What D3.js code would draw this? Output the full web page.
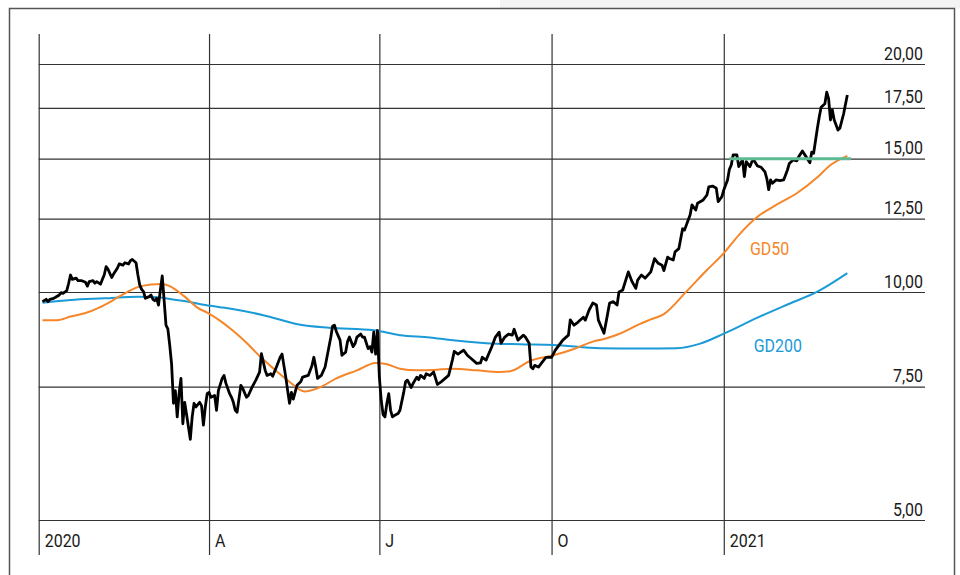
<!DOCTYPE html>
<html>
<head>
<meta charset="utf-8">
<title>Kurs mit GD50 / GD200</title>
<style>
  html, body { margin: 0; padding: 0; background: #fff; }
  svg text { font-family: Roboto, "DejaVu Sans", sans-serif; font-weight: 400; font-size: 19px; fill: #1a1a1a; }
</style>
</head>
<body>
<svg width="960" height="575"></svg>
<script src="https://d3js.org/d3.v7.min.js"></script>
<script>
// days are counted from 1 Jan 2020
const priceDay = [2,4,5,6,8,9,11,12,13,15,16,17,18,20,21,23,25,26,27,29,30,31,33,34,35,36,37,39,40,42,43,45,46,48,49,50,52,53,54,55,56,57,59,60,61,62,63,64,65,66,67,68,69,70,71,72,73,74,75,76,77,78,79,81,82,83,84,86,87,88,89,90,91,92,94,95,96,98,99,100,102,103,104,105,106,108,109,111,112,114,116,118,119,121,122,124,125,127,129,130,132,133,134,135,136,138,140,141,144,146,147,148,149,151,153,154,156,157,158,159,161,162,164,165,166,168,169,170,172,173,174,176,177,178,179,180,181,182,183,184,185,186,187,188,189,190,192,193,195,196,197,199,200,202,203,204,206,207,209,211,213,215,219,221,222,224,227,229,231,234,236,237,239,242,244,246,247,249,251,253,254,256,259,260,262,263,264,265,267,269,271,274,276,278,280,283,284,286,288,291,292,294,296,298,299,302,303,305,307,309,310,312,315,317,319,320,322,324,327,329,331,333,334,336,337,339,340,342,344,345,347,348,349,351,352,355,357,358,360,362,363,365,366,368,369,370,371,373,374,376,377,378,380,381,382,384,386,388,389,390,391,392,394,396,398,400,401,403,405,406,408,410,412,413,414,416,417,418,420,421,422,423,424,425,427,428,430,432]
const priceValue = [9.71,9.78,9.71,9.78,9.81,9.84,9.91,9.98,9.96,10.04,10.27,10.53,10.39,10.43,10.35,10.35,10.30,10.18,10.32,10.35,10.27,10.32,10.24,10.39,10.53,10.80,10.72,10.45,10.56,10.75,10.89,10.85,10.93,10.89,11.00,11.04,10.93,10.53,10.21,10.08,10.01,9.81,9.86,9.91,9.78,9.74,9.81,9.61,10.06,10.50,9.76,9.04,8.94,8.51,8.03,7.13,7.41,6.84,7.34,7.69,6.70,7.15,6.89,6.39,6.84,7.13,7.05,7.15,7.08,6.67,7.05,7.34,7.37,7.26,7.30,6.98,7.41,7.69,7.76,7.58,7.34,7.26,7.15,6.98,6.94,7.53,7.46,7.26,7.30,7.49,7.65,7.84,8.29,7.88,7.76,7.80,7.74,7.96,8.20,8.28,7.72,7.41,7.13,7.37,7.22,7.53,7.61,7.72,7.76,8.00,8.20,7.96,7.69,7.76,7.96,8.20,8.70,9.01,9.04,8.87,8.64,8.25,8.33,8.60,8.72,8.47,8.55,8.72,8.80,8.72,8.72,8.42,8.47,8.33,8.85,8.28,8.90,7.72,7.19,6.89,6.84,7.13,7.34,6.98,6.84,6.87,6.91,6.98,7.37,7.61,7.65,7.48,7.57,7.72,7.66,7.76,7.69,7.80,7.76,7.84,7.55,7.61,7.76,8.13,8.35,8.28,8.38,8.25,8.17,8.05,8.06,8.20,8.13,8.46,8.72,8.85,8.56,8.72,8.80,8.77,8.93,8.64,8.77,8.72,8.56,7.96,7.92,8.00,7.96,8.08,8.20,8.20,8.38,8.51,8.64,8.77,9.19,9.04,9.12,9.26,9.18,9.46,9.67,9.61,9.18,8.82,9.09,9.67,9.71,9.61,10.00,10.06,10.63,10.32,10.11,10.37,10.53,10.43,10.63,11.07,10.91,10.85,10.67,11.12,11.07,11.02,11.30,11.41,12.12,12.07,12.45,12.64,13.03,12.83,13.10,13.23,13.43,13.77,13.80,13.71,13.16,13.36,13.64,14.06,14.52,14.71,15.17,15.17,14.64,14.94,14.20,14.86,14.64,14.86,14.94,14.67,14.61,14.41,14.12,13.65,14.06,13.92,14.06,14.03,14.06,14.49,14.78,14.94,14.90,15.08,15.35,15.08,14.81,15.30,15.25,16.45,17.02,17.54,17.72,18.36,18.00,16.87,17.39,16.87,16.36,16.45,17.18,18.20]

const gd50Day = [2,10,17,25,32,39,46,53,60,66,70,78,85,90,97,104,111,118,125,134,142,150,159,170,180,186,193,202,211,221,234,246,252,263,275,286,296,303,310,321,326,334,346,357,366,374,384,394,405,416,423,432]
const gd50Value = [9.18,9.18,9.28,9.38,9.53,9.73,9.96,10.15,10.23,10.25,10.18,9.86,9.53,9.39,9.16,8.88,8.57,8.23,7.94,7.61,7.39,7.48,7.69,7.88,8.06,8.03,7.92,7.88,7.89,7.92,7.88,7.84,7.86,8.12,8.25,8.41,8.60,8.68,8.80,9.07,9.18,9.35,10.01,10.69,11.25,11.89,12.57,13.03,13.50,14.17,14.71,15.13]

const gd200Day = [2,17,35,53,64,71,80,89,102,120,139,155,179,193,209,220,239,257,275,300,321,341,353,366,384,401,416,432]
const gd200Value = [9.68,9.76,9.81,9.86,9.84,9.78,9.71,9.61,9.51,9.32,9.06,8.97,8.90,8.77,8.71,8.64,8.56,8.53,8.51,8.43,8.42,8.43,8.54,8.81,9.25,9.65,10.01,10.59]

const resistanceDays = [369, 434]
const resistanceValue = 15

const yTicks = [5, 7.5, 10, 12.5, 15, 17.5, 20]
const xTickDays = [0, 91, 182, 274, 366]
const xTickLabels = ["2020", "A", "J", "O", "2021"]

const start = Date.UTC(2020, 0, 1)
const toDate = d => new Date(start + d * 864e5)

const svg = d3.select("svg")
const plotLeft = 38.7, plotRight = 925, plotTop = 34, plotBase = 520, plotBottom = 555

// page frame
svg.append("rect").attr("x", 500).attr("y", 0).attr("width", 460).attr("height", 8.5).attr("fill", "#f3f3f3")
svg.append("rect").attr("x", 9.5).attr("y", 8.5).attr("width", 945).attr("height", 620)
    .attr("fill", "none").attr("stroke", "#555").attr("stroke-width", 1.5)

const x = d3.scaleUtc()
    .domain([toDate(0), toDate(473.5)])
    .range([plotLeft, plotRight])

const y = d3.scaleLog()
    .domain([5, 20])
    .range([plotBase, 64])

const de = d3.formatLocale({decimal: ",", thousands: ".", grouping: [3], currency: ["", "€"]})
const fmt = de.format(".2f")

// horizontal grid + labels
const gy = svg.append("g")
    .attr("transform", `translate(${plotLeft},0)`)
    .call(d3.axisRight(y).tickValues(yTicks).tickSize(plotRight - plotLeft).tickFormat(fmt))
gy.select(".domain").remove()
gy.selectAll(".tick line").attr("stroke", "#333").attr("stroke-width", 1.2)
gy.selectAll(".tick text")
    .attr("x", 923 - plotLeft).attr("dy", -5).attr("text-anchor", "end")
gy.attr("font-size", null).attr("font-family", null)

// vertical grid + labels
const gx = svg.append("g")
    .attr("transform", `translate(0,${plotTop})`)
    .call(d3.axisBottom(x).tickValues(xTickDays.map(toDate)).tickSize(plotBottom - plotTop)
        .tickFormat((d, i) => xTickLabels[i]))
gx.select(".domain").remove()
gx.selectAll(".tick line").attr("stroke", "#333").attr("stroke-width", 1.2)
gx.selectAll(".tick text")
    .attr("x", 5.5).attr("y", 547 - plotTop).attr("dy", 0).attr("text-anchor", "start")
gx.attr("font-size", null).attr("font-family", null)

const series = (days, values) => days.map((d, i) => ({date: toDate(d), value: values[i]}))

const smooth = d3.line().x(d => x(d.date)).y(d => y(d.value)).curve(d3.curveMonotoneX)
const sharp = d3.line().x(d => x(d.date)).y(d => y(d.value))

svg.append("path")
    .datum(series(gd200Day, gd200Value))
    .attr("fill", "none").attr("stroke", "#1b9ad8").attr("stroke-width", 2)
    .attr("d", smooth)

svg.append("path")
    .datum(series(gd50Day, gd50Value))
    .attr("fill", "none").attr("stroke", "#f5862a").attr("stroke-width", 2)
    .attr("d", smooth)

svg.append("path")
    .datum(series(priceDay, priceValue))
    .attr("fill", "none").attr("stroke", "#000").attr("stroke-width", 2.8)
    .attr("stroke-linejoin", "round")
    .attr("d", sharp)

svg.append("path")
    .datum(resistanceDays.map(d => ({date: toDate(d), value: resistanceValue})))
    .attr("fill", "none").attr("stroke", "#5dba92").attr("stroke-width", 3)
    .attr("d", sharp)

svg.append("text")
    .attr("x", x(toDate(380))).attr("y", y(11.2))
    .style("fill", "#f5862a")
    .text("GD50")

svg.append("text")
    .attr("x", x(toDate(382))).attr("y", y(8.33))
    .style("fill", "#1b9ad8")
    .text("GD200")

// the original face is a condensed one: squeeze every label to the same narrow width
const probe = svg.append("text").text("20,00")
const squeeze = 39 / probe.node().getComputedTextLength()
probe.remove()
svg.selectAll("text").each(function () {
    const w = this.getComputedTextLength()
    d3.select(this).attr("textLength", w * squeeze).attr("lengthAdjust", "spacingAndGlyphs")
})
</script>
</body>
</html>
